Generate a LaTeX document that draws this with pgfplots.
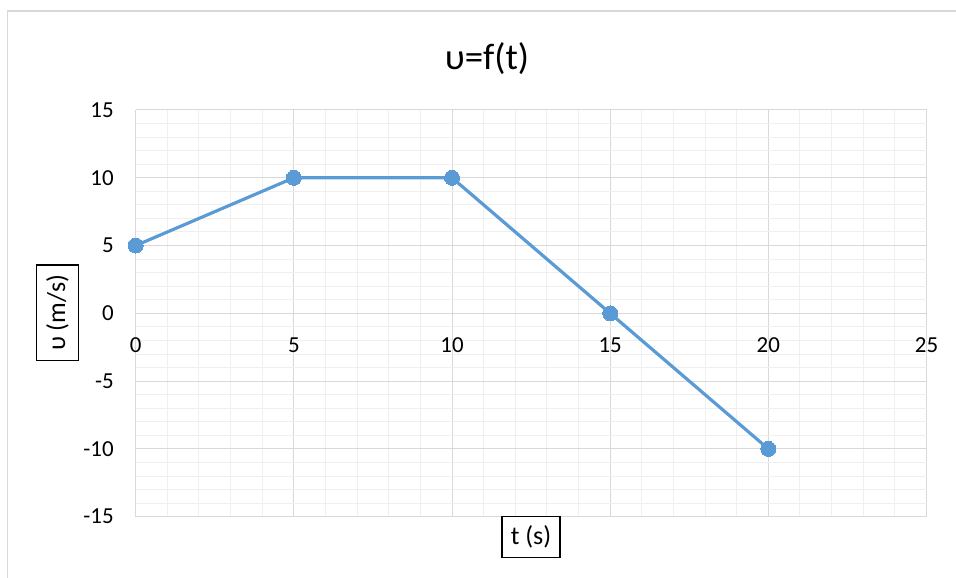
\documentclass[border=0pt]{standalone}
\usepackage{fontspec}
\setmainfont{Carlito}
\usepackage{pgfplots}
\pgfplotsset{compat=1.18}

\definecolor{serieblue}{HTML}{5B9BD5}
\definecolor{gridmajor}{HTML}{D9D9D9}
\definecolor{gridminor}{HTML}{EFEFEF}

\begin{document}
\begin{tikzpicture}[x=1bp,y=1bp]
  \useasboundingbox (0,0) rectangle (956,578);
  % chart frame (cropped at right and bottom)
  \draw[gridmajor, line width=1.5bp] (7.7,-5) -- (7.7,567) -- (970,567);

  \begin{axis}[
    scale only axis,
    width=790.8bp, height=406.7bp,
    at={(135.7bp,61.3bp)}, anchor=south west,
    xmin=0, xmax=25, ymin=-15, ymax=15,
    xtick={0,5,...,25}, ytick={-15,-10,...,15},
    minor tick num=4,
    grid=both,
    major grid style={draw=gridmajor, line width=1bp},
    minor grid style={draw=gridminor, line width=1bp},
    axis x line=middle, axis y line=left,
    axis line style={draw=gridmajor, line width=1.2bp, -},
    hide obscured x ticks=false,
    major tick length=0pt, minor tick length=0pt,
    /pgf/number format/assume math mode=true,
    ticklabel style={font=\fontsize{23}{27}\selectfont, inner sep=0pt, outer sep=0pt},
    xticklabel style={anchor=base, yshift=-38.7bp},
    yticklabel style={anchor=east, xshift=-22bp},
    clip=false,
  ]
    \addplot[
      color=serieblue,
      line width=3.2bp,
      mark=*,
      mark size=7.5bp,
      mark options={fill=serieblue, draw=serieblue, line width=0pt},
    ] coordinates {
      (0, 5)
      (5, 10)
      (10, 10)
      (15, 0)
      (20, -10)
    };
  \end{axis}

  \node[anchor=base, font=\fontsize{37}{44}\selectfont] at (487,508) {υ=f(t)};
  \node[draw, line width=1.3bp, inner sep=0pt, minimum width=58bp, minimum height=41bp,
        font=\fontsize{26}{31}\selectfont] at (531,41) {t (s)};
  \node[draw, line width=1.3bp, inner sep=0pt, minimum width=95.7bp, minimum height=41.6bp,
        rotate=90, font=\fontsize{26}{31}\selectfont] at (57.5,265) {υ (m/s)};
\end{tikzpicture}
\end{document}
